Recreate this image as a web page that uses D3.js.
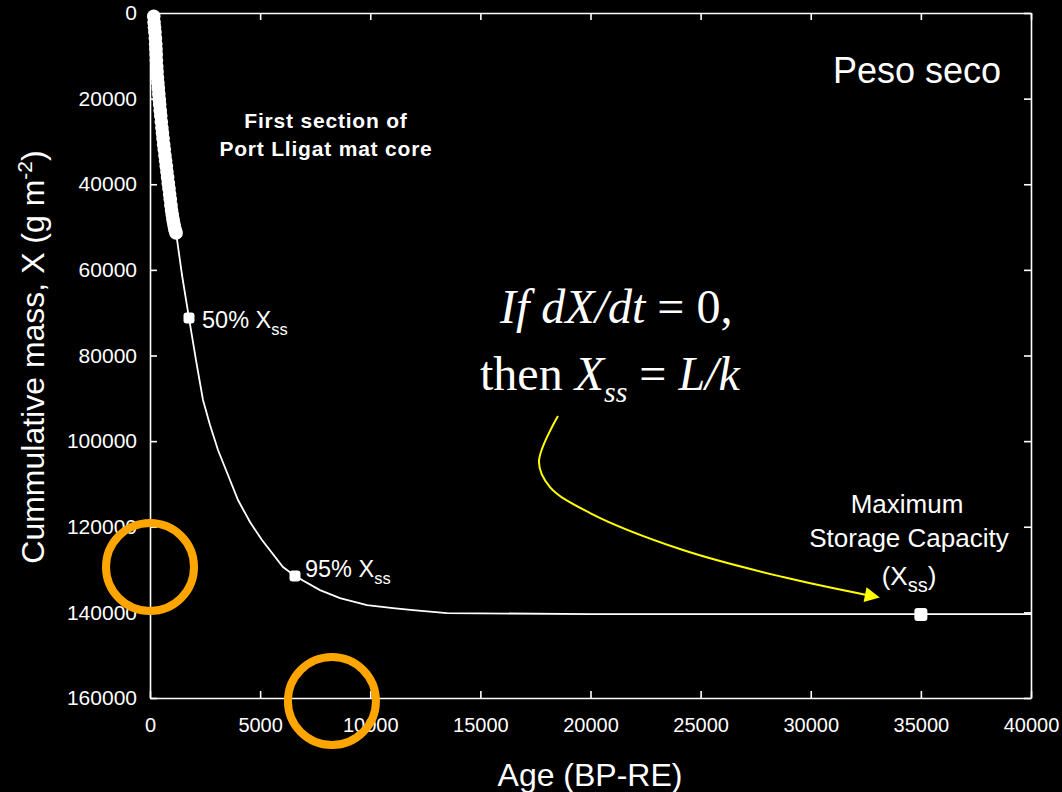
<!DOCTYPE html>
<html>
<head>
<meta charset="utf-8">
<script src="https://cdn.jsdelivr.net/npm/d3@7"></script>
<style>
  body { margin: 0; background: #000; }
  svg { display: block; font-family: "Liberation Sans", Arial, sans-serif; }
  .axis text { fill: #fff; font-size: 21px; }
  .axis line, .axis path { stroke: #fff; stroke-width: 1.6px; }
</style>
</head>
<body>
<div id="chart"></div>
<script>
// core data (first section of Port Lligat mat core)
const coreAge  = [170,185,205,225,245,260,270,282,292,305,320,338,358,378,400,422,440,464,488,514,540,566,592,620,648,678,710,740,768,800,830,862,892,920,950,978,1010,1040,1072,1102,1130,1160,1185];
const coreMass = [800,2100,3300,4500,5900,7300,8500,9700,11100,12500,13700,15100,16300,17500,18900,20200,21400,22800,24000,25400,26800,28000,29300,30700,31900,33300,34500,35800,37100,38400,39800,41000,42300,43500,44900,46000,47100,48200,49000,49800,50500,51000,51400];

// model curve
const modelAge  = [1180,1453,1771,2088,2406,2724,3087,3541,3995,4540,5085,6038,6583,7718,8626,9852,11032,11940,13484,19976,40000];
const modelMass = [51160,61200,71250,81060,90400,96240,102080,107920,113760,118900,123100,129400,131520,134800,136660,138300,139000,139470,140170,140400,140400];

// highlighted points: 50% Xss, 95% Xss, Xss
const markAge  = [1771, 6583, 35000];
const markMass = [71250, 131520, 140500];

const xTicks = [0,5000,10000,15000,20000,25000,30000,35000,40000];
const yTicks = [0,20000,40000,60000,80000,100000,120000,140000,160000];

// yellow arrow (data coords)
const arrowAge  = [18523,17660,18160,19980,24200,28740,32600];
const arrowMass = [94140,104890,110730,116800,125440,131750,136000];

// orange circles (data coords)
const ringAge  = [0, 8260];
const ringMass = [129400, 160700];

const W = 1062, H = 792;
const x = d3.scaleLinear().domain([0, 40000]).range([150, 1031]);
const y = d3.scaleLinear().domain([0, 160000]).range([13, 698]);

const svg = d3.select("#chart").append("svg").attr("width", W).attr("height", H);
svg.append("rect").attr("width", W).attr("height", H).attr("fill", "#000");

// axes with inward ticks
svg.append("g").attr("class", "axis").attr("transform", "translate(0,698)")
  .call(d3.axisBottom(x).tickValues(xTicks).tickFormat(d3.format("d")).tickSizeInner(-7).tickSizeOuter(0).tickPadding(20))
  .selectAll("text").style("font-size", "20px");
svg.append("g").attr("class", "axis").attr("transform", "translate(150,0)")
  .call(d3.axisLeft(y).tickValues(yTicks).tickFormat(d3.format("d")).tickSizeInner(-7).tickSizeOuter(0).tickPadding(13));
svg.append("g").attr("class", "axis").attr("transform", "translate(0,13)")
  .call(d3.axisTop(x).tickValues(xTicks).tickFormat("").tickSizeInner(-7).tickSizeOuter(0));
svg.append("g").attr("class", "axis").attr("transform", "translate(1031,0)")
  .call(d3.axisRight(y).tickValues(yTicks).tickFormat("").tickSizeInner(-7).tickSizeOuter(0));

// model line
const line = d3.line().x(d => x(d[0])).y(d => y(d[1]));
svg.append("path").datum(d3.zip(modelAge, modelMass))
  .attr("d", line).attr("fill", "none").attr("stroke", "#fff").attr("stroke-width", 1.8);

// core dots
svg.append("g").selectAll("circle").data(d3.zip(coreAge, coreMass)).enter().append("circle")
  .attr("cx", d => x(d[0])).attr("cy", d => y(d[1])).attr("r", 6.8).attr("fill", "#fff");

// marker squares
svg.append("g").selectAll("rect").data(d3.zip(markAge, markMass)).enter().append("rect")
  .attr("x", (d, i) => x(d[0]) - (i == 2 ? 6.5 : 5.5)).attr("y", (d, i) => y(d[1]) - (i == 2 ? 6.5 : 5.5))
  .attr("width", (d, i) => i == 2 ? 13 : 11).attr("height", (d, i) => i == 2 ? 13 : 11)
  .attr("rx", 3).attr("fill", "#fff");

// labels
function xssLabel(px, py, pct, size) {
  const t = svg.append("text").attr("x", px).attr("y", py).attr("fill", "#fff").style("font-size", size + "px");
  t.append("tspan").text(pct + " X");
  t.append("tspan").attr("dy", 7).style("font-size", (size * 0.7) + "px").text("ss");
}
xssLabel(x(markAge[0]) + 13, y(markMass[0]) + 10, "50%", 23.5);
xssLabel(x(markAge[1]) + 10, y(markMass[1]) + 1, "95%", 23.5);

svg.append("text").attr("x", 917).attr("y", 83).attr("text-anchor", "middle")
  .attr("fill", "#fff").style("font-size", "36px").text("Peso seco");

const first = svg.append("text").attr("text-anchor", "middle").attr("fill", "#fff")
  .style("font-size", "21px").style("font-weight", "bold").style("letter-spacing", "0.8px");
first.append("tspan").attr("x", 326).attr("y", 128).text("First section of");
first.append("tspan").attr("x", 326).attr("y", 156).text("Port Lligat mat core");

const maxs = svg.append("text").attr("text-anchor", "middle").attr("fill", "#fff").style("font-size", "26px");
maxs.append("tspan").attr("x", 907).attr("y", 513).text("Maximum");
maxs.append("tspan").attr("x", 909).attr("y", 547).text("Storage Capacity");
const xss = svg.append("text").attr("x", 909).attr("y", 585).attr("text-anchor", "middle")
  .attr("fill", "#fff").style("font-size", "26px");
xss.append("tspan").text("(X");
xss.append("tspan").attr("dy", 7).style("font-size", "20px").text("ss");
xss.append("tspan").attr("dy", -7).text(")");

// formula
const f1 = svg.append("text").attr("x", 500).attr("y", 323).attr("fill", "#fff")
  .style("font-family", "'Liberation Serif', 'Times New Roman', serif").style("font-size", "48px");
f1.append("tspan").style("font-style", "italic").text("If dX/dt");
f1.append("tspan").text(" = 0,");
const f2 = svg.append("text").attr("x", 480).attr("y", 390).attr("fill", "#fff")
  .style("font-family", "'Liberation Serif', 'Times New Roman', serif").style("font-size", "48px");
f2.append("tspan").text("then ");
f2.append("tspan").style("font-style", "italic").text("X");
f2.append("tspan").style("font-style", "italic").style("font-size", "30px").attr("dy", 12).text("ss");
f2.append("tspan").attr("dy", -12).text(" = ");
f2.append("tspan").style("font-style", "italic").text("L/k");

// axis titles
svg.append("text").attr("x", 590).attr("y", 786).attr("text-anchor", "middle")
  .attr("fill", "#fff").style("font-size", "32px").text("Age (BP-RE)");
const yt = svg.append("text").attr("transform", "translate(44,357) rotate(-90)").attr("text-anchor", "middle")
  .attr("fill", "#fff").style("font-size", "32px");
yt.append("tspan").text("Cummulative mass, X (g m");
yt.append("tspan").attr("dy", -12).style("font-size", "21px").text("-2");
yt.append("tspan").attr("dy", 12).text(")");

// yellow arrow
svg.append("defs").append("marker").attr("id", "head")
  .attr("viewBox", "0 0 10 10").attr("refX", 2).attr("refY", 5)
  .attr("markerWidth", 19).attr("markerHeight", 15).attr("markerUnits", "userSpaceOnUse")
  .attr("orient", "auto")
  .append("path").attr("d", "M0,0L10,5L0,10Z").attr("fill", "#ffff00");
svg.append("path").datum(d3.zip(arrowAge, arrowMass))
  .attr("d", d3.line().x(d => x(d[0])).y(d => y(d[1])).curve(d3.curveCatmullRom))
  .attr("fill", "none").attr("stroke", "#ffff00").attr("stroke-width", 2)
  .attr("marker-end", "url(#head)");

// orange rings
svg.append("g").selectAll("circle").data(d3.zip(ringAge, ringMass)).enter().append("circle")
  .attr("cx", d => x(d[0])).attr("cy", d => y(d[1])).attr("r", 44)
  .attr("fill", "none").attr("stroke", "#ffa500").attr("stroke-width", 8);
</script>
</body>
</html>
